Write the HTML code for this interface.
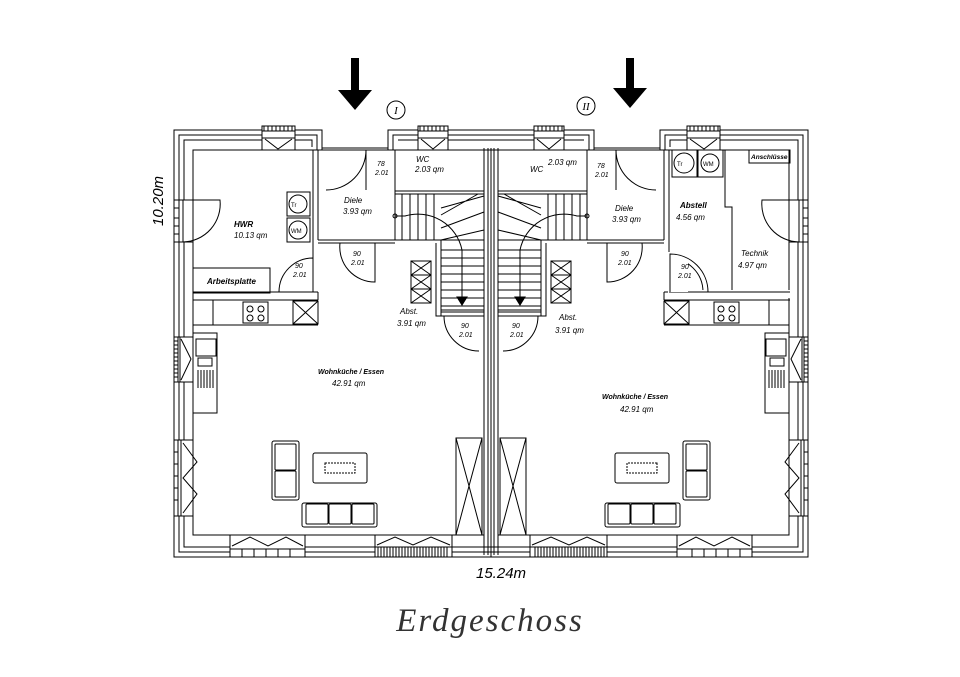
<!DOCTYPE html>
<html><head><meta charset="utf-8"><style>
html,body{margin:0;padding:0;background:#fff;}
svg{display:block}
.t{font-family:"Liberation Sans",sans-serif;font-style:italic;font-size:8px;fill:#000}
.b{font-weight:bold}
</style></head><body>
<svg width="960" height="677" viewBox="0 0 960 677" xmlns="http://www.w3.org/2000/svg">
<defs>
<g id="half" fill="none" stroke="#000" stroke-width="1">
  <path d="M491,130 H388 V150 M322,150 V130 H174 V557 H491"/>
  <path d="M491,135 H393 V150 M317,150 V135 H179 V552 H491"/>
  <path d="M491,140 H398 M312,147 V140 H184 V547 H491"/>
  <path d="M491,150 H193 V535 H484"/>
  <path d="M322,148 H388"/>
  <path d="M484,148 V555 M488,148 V555 M491,148 V557"/>
  <rect x="262" y="126" width="33" height="24" fill="#fff"/>
  <path d="M264,126 V131 M268,126V131 M272,126V131 M276,126V131 M280,126V131 M284,126V131 M288,126V131 M292,126V131 M262,131 H295 M262,138 H295 M265,139 L278,149 L292,139"/>
  <rect x="418" y="126" width="30" height="24" fill="#fff"/>
  <path d="M420,126 V131 M424,126V131 M428,126V131 M432,126V131 M436,126V131 M440,126V131 M444,126V131 M418,131 H448 M418,138 H448 M421,139 L433,149 L445,139"/>
  <rect x="174" y="200" width="19" height="42" fill="#fff"/>
  <path d="M174,200 V242 M179,200 V242 M174,208 H179 M174,218 H179 M174,226 H179 M174,234 H179 M183,200 V242 M183,200 H220 A38,38 0 0 1 183,242"/>
  <rect x="174" y="337" width="19" height="45" fill="#fff"/>
  <path d="M174,337 V382 M178,337 V382 M174,341 H178 M174,345H178 M174,349H178 M174,353H178 M174,357H178 M174,361H178 M174,365H178 M174,369H178 M174,373H178 M174,377H178 M180,337 V382 M193,337 V382 M181,339 L191,359 L181,380"/>
  <rect x="174" y="440" width="19" height="76" fill="#fff"/>
  <path d="M174,440 V516 M178,440 V516 M174,452 H178 M174,464H178 M174,476H178 M174,488H178 M174,500H178 M181,440 V516 M183,443 L197,462 L183,478 L197,494 L183,513"/>
  <rect x="230" y="535" width="75" height="22" fill="#fff"/>
  <path d="M230,549 H305 M230,535 V557 M305,535 V557 M242,549V557 M254,549V557 M266,549V557 M278,549V557 M290,549V557 M232,546 L250,537 L268,546 L286,537 L303,546"/>
  <rect x="375" y="535" width="77" height="22" fill="#fff"/>
  <path d="M375,547 H452 M375,535 V557 M452,535 V557 M378,547V557 M381,547V557 M384,547V557 M387,547V557 M390,547V557 M393,547V557 M396,547V557 M399,547V557 M402,547V557 M405,547V557 M408,547V557 M411,547V557 M414,547V557 M417,547V557 M420,547V557 M423,547V557 M426,547V557 M429,547V557 M432,547V557 M435,547V557 M438,547V557 M441,547V557 M444,547V557 M447,547V557 M377,545 L395,537 L413,545 L431,537 L450,545"/>
  <path d="M313,150 V292 M318,150 V240"/>
  <path d="M318,240 H395 M318,243 H395 M395,150 V240 M395,191 H484 M395,194 H484"/>
  <path d="M366,150 V190 M366,150 A40,40 0 0 1 326,190"/>
  <path d="M375,243 V282 A35,35 0 0 1 340,243"/>
  <path d="M313,258 V292 M313,258 A34,34 0 0 0 279,292"/>
  <path d="M193,292 H318 M193,300 H318 M318,292 V300"/>
  <path d="M213,300 V325 H318 M193,325 H213"/>
  <rect x="243" y="302" width="25" height="21"/>
  <circle cx="250" cy="309" r="3"/><circle cx="261" cy="309" r="3"/><circle cx="250" cy="318" r="3"/><circle cx="261" cy="318" r="3"/>
  <rect x="293" y="301" width="25" height="23"/>
  <path d="M293,301 L318,324 M318,301 L293,324"/>
  <path d="M193,333 H217 V413 H193"/>
  <rect x="196" y="339" width="20" height="17"/><rect x="198" y="358" width="14" height="8"/>
  <path d="M198,370 V388 M201,370V388 M204,370V388 M207,370V388 M210,370V388 M213,370V388"/>
  <path d="M441,240 V310 M484,240 V310 M441,310 H484 M441,250 H484 M441,258 H484 M441,266 H484 M441,274 H484 M441,282 H484 M441,290 H484 M441,298 H484 M441,306H484"/>
  <path d="M395,240 H441 M402,194 V240 M410,194 V240 M418,194 V240 M426,194 V240 M434,194 V240 M441,208 L484,196 M441,215 L478,194 M441,228 L484,212 M441,240 L484,230 M441,240 L484,240"/>
  <path d="M395,216 H405 A45,45 0 0 1 462,250 V300"/>
  <circle cx="395" cy="216" r="2"/>
  <path d="M457,297 L467,297 L462,305 Z" fill="#000"/>
  <path d="M436,243 V316 H441 M441,310 V316 H484 M441,312 H484"/>
  <path d="M444,316 A35,35 0 0 0 479,351"/>
  <rect x="411" y="261" width="20" height="42"/>
  <path d="M411,275 H431 M411,289 H431 M411,261 L431,275 M431,261 L411,275 M411,275 L431,289 M431,275 L411,289 M411,289 L431,303 M431,289 L411,303"/>
  <rect x="272" y="441" width="27" height="59" rx="2"/>
  <rect x="275" y="444" width="21" height="26" rx="1"/><rect x="275" y="471" width="21" height="26" rx="1"/>
  <rect x="313" y="453" width="54" height="30" rx="2"/>
  <rect x="325" y="463" width="30" height="10" stroke-dasharray="2,1"/>
  <rect x="302" y="503" width="75" height="24" rx="2"/>
  <rect x="306" y="504" width="22" height="20" rx="1"/><rect x="329" y="504" width="22" height="20" rx="1"/><rect x="352" y="504" width="22" height="20" rx="1"/>
  <rect x="456" y="438" width="26" height="97"/>
  <path d="M456,438 L469,486 L456,535 M482,438 L469,486 L482,535"/>
</g>
</defs>
<use href="#half"/>
<use href="#half" transform="translate(982,0) scale(-1,1)"/>
<g fill="none" stroke="#000">
  <rect x="287" y="192" width="23" height="24"/><circle cx="298" cy="204" r="9"/>
  <rect x="287" y="218" width="23" height="24"/><circle cx="298" cy="230" r="9"/>
  <rect x="193" y="268" width="77" height="25"/>
  <rect x="672" y="150" width="25" height="27"/><circle cx="684" cy="163" r="10"/>
  <rect x="698" y="150" width="25" height="27"/><circle cx="710" cy="163" r="9"/>
  <path d="M669,150 V292 M725,150 V207 H732 V292"/>
  <rect x="749" y="150" width="41" height="13"/>
  <rect x="668" y="290" width="123" height="8" fill="#fff" stroke="none"/>
  <path d="M669,292 H790 M664,300 H790"/>
  <rect x="668" y="252" width="20" height="40" fill="#fff" stroke="none"/>
  <path d="M708,292 A38,38 0 0 0 670,254 V292"/>
</g>
<g class="t">
<text x="234" y="227" class="b">HWR</text><text x="234" y="238">10.13  qm</text>
<text x="207" y="284" class="b">Arbeitsplatte</text>
<text x="291" y="207" font-size="6" font-style="normal">Tr</text><text x="291" y="233" font-size="6" font-style="normal">WM</text>
<text x="344" y="203">Diele</text><text x="343" y="214">3.93  qm</text>
<text x="377" y="166" font-size="7">78</text><text x="375" y="175" font-size="7">2.01</text>
<text x="416" y="162">WC</text><text x="415" y="172">2.03  qm</text>
<text x="353" y="256" font-size="7">90</text><text x="351" y="265" font-size="7">2.01</text>
<text x="295" y="268" font-size="7">90</text><text x="293" y="277" font-size="7">2.01</text>
<text x="400" y="314">Abst.</text><text x="397" y="326">3.91  qm</text>
<text x="461" y="328" font-size="7">90</text><text x="459" y="337" font-size="7">2.01</text>
<text x="318" y="374" class="b" font-size="7">Wohnküche / Essen</text><text x="332" y="386">42.91  qm</text>
<text x="530" y="172">WC</text><text x="548" y="165">2.03  qm</text>
<text x="597" y="168" font-size="7">78</text><text x="595" y="177" font-size="7">2.01</text>
<text x="615" y="211">Diele</text><text x="612" y="222">3.93  qm</text>
<text x="680" y="208" class="b">Abstell</text><text x="676" y="220">4.56  qm</text>
<text x="741" y="256">Technik</text><text x="738" y="268">4.97  qm</text>
<text x="751" y="159" font-size="6.5" class="b">Anschlüsse</text>
<text x="677" y="166" font-size="6" font-style="normal">Tr</text><text x="703" y="166" font-size="6" font-style="normal">WM</text>
<text x="621" y="256" font-size="7">90</text><text x="618" y="265" font-size="7">2.01</text>
<text x="681" y="269" font-size="7">90</text><text x="678" y="278" font-size="7">2.01</text>
<text x="559" y="320">Abst.</text><text x="555" y="333">3.91  qm</text>
<text x="512" y="328" font-size="7">90</text><text x="510" y="337" font-size="7">2.01</text>
<text x="602" y="399" class="b" font-size="7">Wohnküche / Essen</text><text x="620" y="412">42.91  qm</text>
</g>
<path d="M351,58 H359 V90 H372 L355,110 L338,90 H351 Z" fill="#000"/>
<path d="M626,58 H634 V88 H647 L630,108 L613,88 H626 Z" fill="#000"/>
<circle cx="396" cy="110" r="9" fill="none" stroke="#000"/>
<circle cx="586" cy="106" r="9" fill="none" stroke="#000"/>
<text x="396" y="114" text-anchor="middle" font-family="Liberation Serif,serif" font-style="italic" font-size="11">I</text>
<text x="586" y="110" text-anchor="middle" font-family="Liberation Serif,serif" font-style="italic" font-size="11">II</text>
<text x="0" y="0" transform="translate(163,226) rotate(-90)" font-family="Liberation Sans,sans-serif" font-style="italic" font-size="15">10.20m</text>
<text x="476" y="578" font-family="Liberation Sans,sans-serif" font-style="italic" font-size="15">15.24m</text>
<text x="490" y="631" text-anchor="middle" font-family="Liberation Serif,serif" font-style="italic" font-size="33" letter-spacing="2" fill="#333">Erdgeschoss</text>
</svg>
</body></html>
